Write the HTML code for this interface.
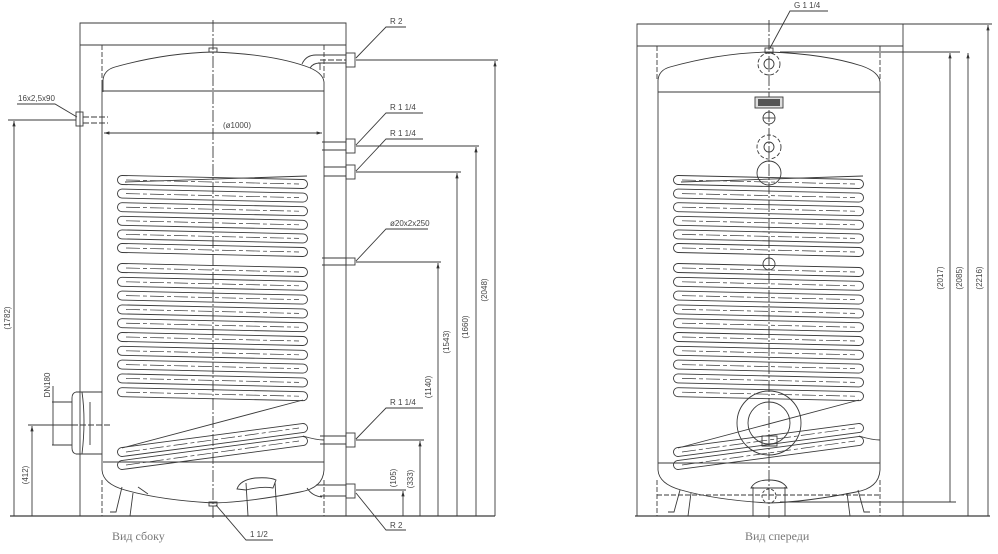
<!DOCTYPE html>
<html><head><meta charset="utf-8"><style>
html,body{margin:0;padding:0;background:#fff;}
svg{display:block;}
text{font-family:"Liberation Sans",sans-serif;font-size:8px;fill:#444;stroke:none;}
.s{font-family:"Liberation Serif",serif;font-size:12px;fill:#777;}
</style></head><body>
<svg id="d" width="998" height="554" viewBox="0 0 998 554" xmlns="http://www.w3.org/2000/svg" fill="none" stroke="#3a3a3a" stroke-width="0.9">
<defs><marker id="a" viewBox="0 0 10 10" refX="10" refY="5" markerWidth="6" markerHeight="6" orient="auto-start-reverse"><path d="M0,2 L10,5 L0,8" fill="#333" stroke="none"/></marker></defs>
<g id="coils"></g>
<!-- LEFT VIEW -->
<path d="M80,516 V23 H346 V516 M80,45 H346"/>
<path d="M102,45 V80 M324,45 V80 M102,480 V516 M324,480 V516" stroke-dasharray="5,2"/>
<path d="M213,20 V520" stroke-dasharray="12,2,2,2"/>
<path d="M103,92 V80 Q104,70 115,67 Q165,53 213,52 Q270,54 305,66 Q323,72 324,82 V470 Q323,488 300,492 Q250,502 213,503 Q160,500 125,490 Q103,484 102,470 V80"/>
<path d="M103,91 H324 M103,462 H324"/>
<rect x="209" y="48" width="8" height="4"/>
<rect x="209" y="502" width="8" height="4"/>
<path d="M302,64 Q306,55 316,55 H346 M310,68 Q313,63 320,63 V70 M318,63 H346" />
<path d="M320,60 H346" stroke-dasharray="6,2"/>
<rect x="346" y="53" width="9" height="14"/>
<path d="M322,142 H346 M322,150 H346 M324,167 H346 M324,176 H346 M322,258 H346 M322,265 H346 M320,436 H346 M320,444 H346 M316,485 H346 M320,496 H346"/>
<rect x="346" y="139" width="9" height="14"/><rect x="346" y="165" width="9" height="14"/>
<rect x="346" y="258" width="9" height="7"/><rect x="346" y="433" width="9" height="14"/>
<rect x="346" y="484" width="9" height="14"/>
<path d="M307,488 Q312,496 322,497"/>
<rect x="76" y="112" width="7" height="14"/>
<path d="M83,117 H108 M83,123 H108" stroke-dasharray="6,2"/>
<path d="M102,392 H76 Q72,393 72,398 V448 Q72,453 76,454 H102 M90,402 V445 M82,392 Q86,420 82,454"/>
<path d="M40,425 H112" stroke-dasharray="6,2"/>
<path d="M122,487 L116,512 H110 M133,493 L130,516 M138,487 L148,494"/>
<path d="M246,483 L248,516 M275,482 L277,516 M237,489 Q240,480 255,478 Q270,477 276,480 L273,488 Q262,486 246,490 Z M244,516 H280"/>
<path d="M10,516 H495" stroke-width="1.2"/>
<path d="M8,120 H76 M14,516 V121" marker-end="url(#a)"/>
<path d="M28,425 H72 M32,516 V426" marker-end="url(#a)"/>
<path d="M52,402 H72 M52,445 H72 M53,386 V445"/>
<text transform="translate(10,318) rotate(-90)" text-anchor="middle">(1782)</text>
<text transform="translate(28,475) rotate(-90)" text-anchor="middle">(412)</text>
<text transform="translate(50,385) rotate(-90)" text-anchor="middle">DN180</text>
<path d="M104,133 H322" marker-start="url(#a)" marker-end="url(#a)"/>
<text x="237" y="128" text-anchor="middle">(ø1000)</text>
<path d="M356,60 H498 M356,146 H479 M356,172 H461 M356,262 H441 M356,440 H424 M356,490 H406"/>
<path d="M495,516 V61" marker-end="url(#a)"/><path d="M476,516 V147" marker-end="url(#a)"/>
<path d="M457,516 V173" marker-end="url(#a)"/><path d="M438,516 V263" marker-end="url(#a)"/>
<path d="M420,516 V441" marker-end="url(#a)"/><path d="M403,516 V491" marker-end="url(#a)"/>
<text transform="translate(487,290) rotate(-90)" text-anchor="middle">(2048)</text>
<text transform="translate(468,327) rotate(-90)" text-anchor="middle">(1660)</text>
<text transform="translate(449,342) rotate(-90)" text-anchor="middle">(1543)</text>
<text transform="translate(431,387) rotate(-90)" text-anchor="middle">(1140)</text>
<text transform="translate(413,479) rotate(-90)" text-anchor="middle">(333)</text>
<text transform="translate(396,478) rotate(-90)" text-anchor="middle">(105)</text>
<path d="M406,27 H386 L356,58" /><text x="390" y="24">R 2</text>
<path d="M423,113 H386 L356,145"/><text x="390" y="110">R 1 1/4</text>
<path d="M423,139 H386 L356,171"/><text x="390" y="136">R 1 1/4</text>
<path d="M428,229 H386 L356,261"/><text x="390" y="226">ø20x2x250</text>
<path d="M423,408 H386 L356,439"/><text x="390" y="405">R 1 1/4</text>
<path d="M406,530 H386 L356,493"/><text x="390" y="528">R 2</text>
<path d="M273,540 H246 L216,505"/><text x="250" y="537">1 1/2</text>
<path d="M17,104 H55 L77,117"/><text x="18" y="101">16x2,5x90</text>
<text x="112" y="540" class="s">Вид сбоку</text>
<!-- RIGHT VIEW -->
<path d="M637,516 V24 H903 V516 M637,46 H903"/>
<path d="M657,46 V80 M880,46 V80 M657,480 V516 M880,480 V516" stroke-dasharray="5,2"/>
<path d="M769,20 V520" stroke-dasharray="12,2,2,2"/>
<path d="M658,92 V80 Q659,70 670,67 Q720,53 769,52 Q825,54 862,66 Q879,72 880,82 V470 Q879,488 856,492 Q806,502 769,503 Q716,500 681,490 Q659,484 658,470 V80"/>
<path d="M658,92 H880 M658,463 H880"/>
<rect x="765" y="48" width="8" height="5"/>
<circle cx="769" cy="64" r="11" stroke-dasharray="4,2"/><circle cx="769" cy="64" r="5"/>
<rect x="755" y="97" width="28" height="11" fill="#ddd"/><rect x="758" y="99" width="22" height="7" fill="#555" stroke="none"/>
<circle cx="769" cy="118" r="6"/><path d="M763,118 H775"/>
<circle cx="769" cy="147" r="12" stroke-dasharray="4,2"/><circle cx="769" cy="147" r="5"/>
<circle cx="769" cy="173" r="12"/>
<circle cx="769" cy="264" r="6"/>
<circle cx="769" cy="423" r="32"/><circle cx="769" cy="423" r="21"/>
<path d="M762,436 H777 V446 H762 Z"/>
<path d="M680,490 L674,512 H668 M691,493 L688,516 M858,490 L864,512 H870 M847,493 L850,516"/>
<path d="M753,487 V516 M785,487 V516 M751,488 Q755,480 769,480 Q783,480 787,488 Z"/>
<circle cx="769" cy="496" r="7" stroke-dasharray="3,2"/>
<path d="M657,495 H880" stroke-dasharray="5,2"/>
<path d="M635,516 H990" stroke-width="1.2"/>
<path d="M780,52 H960 M780,502 H956 M903,24 H992"/>
<path d="M950,502 V53" marker-end="url(#a)"/>
<path d="M968,516 V53" marker-end="url(#a)"/>
<path d="M988,516 V25" marker-end="url(#a)"/>
<text transform="translate(943,278) rotate(-90)" text-anchor="middle">(2017)</text>
<text transform="translate(962,278) rotate(-90)" text-anchor="middle">(2085)</text>
<text transform="translate(982,278) rotate(-90)" text-anchor="middle">(2216)</text>
<path d="M828,11 H790 L770,48"/><text x="794" y="8">G 1 1/4</text>
<text x="745" y="540" class="s">Вид спереди</text>
</svg>
<script>
(function(){
var g=document.getElementById('coils'),h='';
function cap(x1,y1,x2,y2){
  var dx=x2-x1,dy=y2-y1,L=Math.sqrt(dx*dx+dy*dy),nx=-dy/L*4.5,ny=dx/L*4.5;
  h+='<path d="M'+(x1+nx)+','+(y1+ny)+' L'+(x2+nx)+','+(y2+ny)+' A4.5 4.5 0 0 0 '+(x2-nx)+','+(y2-ny)+' L'+(x1-nx)+','+(y1-ny)+' A4.5 4.5 0 0 0 '+(x1+nx)+','+(y1+ny)+' Z"/>';
  h+='<path d="M'+(x1+4)+','+y1+' L'+(x2-4)+','+y2+'" stroke-dasharray="14,3,4,3" stroke-width="0.7"/>';
}
[0,556].forEach(function(o){
  var rows=[];
  for(var i=0;i<6;i++)rows.push(182+13.6*i);
  for(i=0;i<10;i++)rows.push(270+13.8*i);
  rows.forEach(function(y){cap(122+o,y-2,303+o,y+2);});
  cap(122+o,452,303+o,428);cap(122+o,465,303+o,441);
  h+='<path d="M'+(303+o)+',400 L'+(122+o)+',448 M'+(307+o)+',176 L'+(125+o)+',182"/>';
  h+='<path d="M'+(303+o)+',436 Q'+(316+o)+',440 '+(324+o)+',440"/>';
});
g.innerHTML=h;
})();
</script>
</body></html>
